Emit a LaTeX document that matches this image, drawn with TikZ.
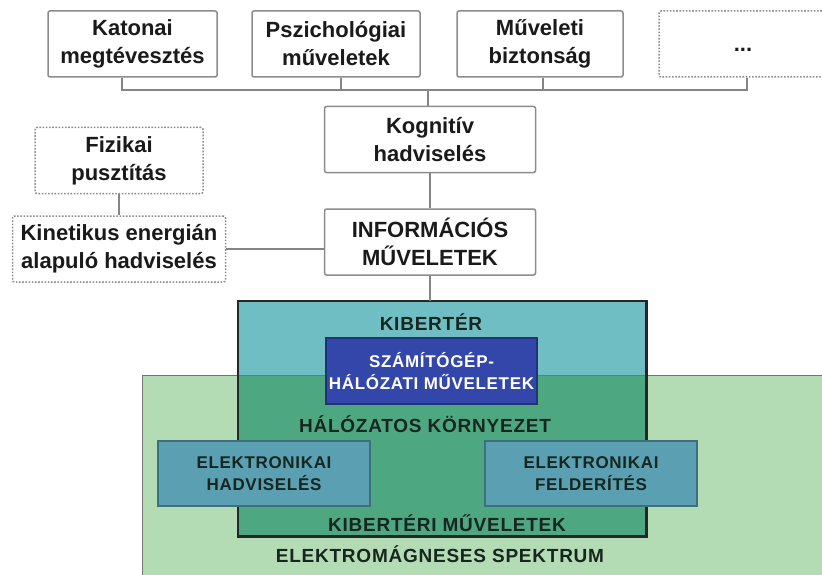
\documentclass[tikz,border=0pt]{standalone}
\usepackage{fontspec}
\setmainfont{Liberation Sans}
\newfontfamily\capsfont[LetterSpace=4]{Liberation Sans}
\usetikzlibrary{
  positioning
}
\definecolor{boxline}{HTML}{8C8C8C}
\definecolor{linkcolor}{HTML}{858585}
\definecolor{textdark}{HTML}{1A1A1A}
\definecolor{zonetext}{HTML}{17261E}
\definecolor{cyberteal}{HTML}{6EBEC4}
\definecolor{spectgreen}{HTML}{B4DCB4}
\definecolor{netgreen}{HTML}{4DA882}
\definecolor{cnoblue}{HTML}{3346AA}
\definecolor{ewblue}{HTML}{5A9FB2}
\definecolor{ewline}{HTML}{3C6E7C}
\tikzset{
  base/.style={
    text=textdark,
    font=\fontsize{22}{28}\selectfont\bfseries,
    align=center,
    inner sep=0pt,
  },
  opbox/.style={
    base,
    draw=boxline,
    fill=white,
    line width=1.5pt,
    rounded corners=2pt,
    minimum width=#1,
    minimum height=66pt,
  },
  opbox/.default=168pt,
  openbox/.style={
    opbox=#1,
    dash pattern=on 1.6pt off 1.6pt,
  },
  openbox/.default=168pt,
  zonelabel/.style={
    text=zonetext,
    font=\capsfont\bfseries\fontsize{19}{22}\selectfont,
    inner sep=0pt,
  },
  subop/.style={
    zonelabel,
    font=\capsfont\bfseries\fontsize{17}{22}\selectfont,
    align=center,
    minimum width=212pt,
    minimum height=65pt,
    line width=1.2pt,
    draw=#1!70!black,
    fill=#1,
  },
  subop/.default=ewblue,
  link/.style={
    draw=linkcolor,
    line width=1.5pt,
  },
  spectline/.style={
    draw=black!55,
    line width=1pt,
  },
  cyberline/.style={
    draw=black!85,
    line width=2.4pt,
  },
}

\begin{document}
\begin{tikzpicture}[x=1pt, y=-1pt]
\useasboundingbox (0,0) rectangle (822,575);
\clip (0,0) rectangle (822,575);

% === ROW 1: operations feeding cognitive warfare ===

\node[opbox=169pt] (katonai) at (132.5,44) {Katonai\\megtévesztés};
\node[opbox] (pszich) at (336,44) {Pszichológiai\\műveletek};
\node[opbox=166pt] (muveleti) at (540,44) {Műveleti\\biztonság};
\node[openbox] (tovabbi) at (743,44) {\vphantom{Ág}...};

% bus line to Kognitív
\coordinate (bus) at (428,90);
\foreach \n/\dx in {katonai/-10.5, pszich/5, muveleti/3, tovabbi/4}
  \draw[link] ([xshift=\dx pt]\n.south) |- (bus);

% === CENTRE COLUMN ===

\node[opbox=211pt] (kognitiv) at (430,139.5) {Kognitív\\hadviselés};
\node[opbox=211pt, below=35pt of kognitiv] (inform) {INFORMÁCIÓS\\MŰVELETEK};

\draw[link] (bus) -- (bus |- kognitiv.north);
\draw[link] (kognitiv) -- (inform);

% === LEFT COLUMN ===

\node[openbox=168pt] (fizikai) at (119,160.5) {Fizikai\\pusztítás};
\node[openbox=213pt, below=21pt of fizikai] (kinetikus) {Kinetikus energián\\alapuló hadviselés};

\draw[link] (fizikai) -- (kinetikus);
\draw[link] (kinetikus.east) -- (kinetikus.east -| inform.west);

% === ZONES: spectrum and cyberspace ===

\node[fill=spectgreen, minimum width=720pt, minimum height=230pt,
  anchor=north west, inner sep=0pt] (spektrum) at (142,375) {};
\node[fill=cyberteal, minimum width=408pt, minimum height=235pt,
  anchor=north west, inner sep=0pt] (kiberter) at (238,301) {};

% overlap: networked environment
\begin{scope}
  \clip (kiberter.south west) rectangle (kiberter.north east);
  \fill[netgreen] (spektrum.south west) rectangle (spektrum.north east);
\end{scope}
\draw[spectline] (spektrum.south west) rectangle (spektrum.north east);
\draw[cyberline] (kiberter.south west) rectangle (kiberter.north east);

\draw[link] (inform) -- (inform |- kiberter.north);

% zone labels
\node[zonelabel] (kiberlabel) at (431,322) {KIBERTÉR};
\node[zonelabel] (halozat) at (425,424) {HÁLÓZATOS KÖRNYEZET};
\node[zonelabel] (kibermuv) at (447,523) {KIBERTÉRI MŰVELETEK};
\node[zonelabel] (spektlabel) at (440,554) {ELEKTROMÁGNESES SPEKTRUM};

% === Inner operations ===

\node[subop=cnoblue, text=white, minimum width=211pt, minimum height=66pt]
  (szamitogep) at (431.5,371) {SZÁMÍTÓGÉP-\\HÁLÓZATI MŰVELETEK};
\node[subop] (ewhad) at (264,473.5) {ELEKTRONIKAI\\HADVISELÉS};
\node[subop] (ewfeld) at (591,473.5) {ELEKTRONIKAI\\FELDERÍTÉS};

\end{tikzpicture}
\end{document}
